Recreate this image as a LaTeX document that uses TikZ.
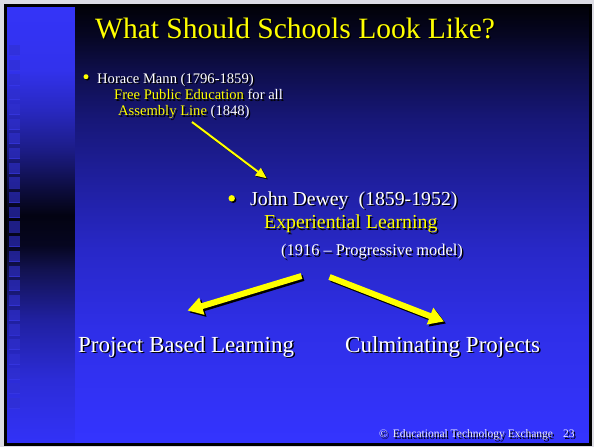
\documentclass[tikz,border=0pt]{standalone}
\usepackage{fontspec}
\setmainfont{Liberation Serif}
\usetikzlibrary{arrows.meta}

\definecolor{slideyellow}{HTML}{FFFF00}
\definecolor{outerbg}{HTML}{DCDCE4}
\definecolor{sqfill}{HTML}{3030D0}
\definecolor{sqedge}{HTML}{3C3CF0}
% main background, bottom to top
\definecolor{bgA}{HTML}{3434FF}
\definecolor{bgB}{HTML}{2F2FE8}
\definecolor{bgC}{HTML}{2828C8}
\definecolor{bgD}{HTML}{1F1F9E}
\definecolor{bgE}{HTML}{171778}
\definecolor{bgF}{HTML}{0E0E4A}
\definecolor{bgG}{HTML}{060622}
\definecolor{bgH}{HTML}{010108}
% left strip, bottom to top
\definecolor{stA}{HTML}{3232F8}
\definecolor{stB}{HTML}{2C2CD8}
\definecolor{stC}{HTML}{2020A0}
\definecolor{stD}{HTML}{121250}
\definecolor{stE}{HTML}{060620}
\definecolor{stF}{HTML}{030312}
\definecolor{stG}{HTML}{0C0C3C}
\definecolor{stH}{HTML}{1C1C86}
\definecolor{stI}{HTML}{2828C0}
\definecolor{stJ}{HTML}{3232EC}
\definecolor{stK}{HTML}{3434F8}

\pgfdeclareverticalshading{slidebg}{100bp}{color(0bp)=(bgA); color(25bp)=(bgA);
  color(38bp)=(bgB); color(47.1bp)=(bgC); color(55.1bp)=(bgD); color(62bp)=(bgE);
  color(67.7bp)=(bgF); color(71.7bp)=(bgG); color(75bp)=(bgH); color(100bp)=(bgH)}
\pgfdeclareverticalshading{stripbg}{100bp}{color(0bp)=(stA); color(25bp)=(stA);
  color(32.3bp)=(stB); color(39.2bp)=(stC); color(44.9bp)=(stD); color(47.7bp)=(stE);
  color(51.1bp)=(stF); color(54bp)=(stG); color(58.6bp)=(stH); color(63.1bp)=(stI);
  color(67.7bp)=(stJ); color(75bp)=(stK); color(100bp)=(stK)}

\newcommand{\hl}[1]{\textcolor{slideyellow}{#1}}
% shadowed text: [style] {name} {position} {text}
\newcommand{\slidetext}[4][]{%
  \node[slidetxt,#1,text=black,xshift=1.5pt,yshift=-1.5pt] at (#3) {\let\hl\relax #4};
  \node[slidetxt,#1] (#2) at (#3) {#4};}

\tikzset{
  slidetxt/.style={anchor=base west, inner sep=0pt, text=white},
  titletxt/.style={font=\fontsize{29.5}{32}\selectfont, text=slideyellow},
  manntxt/.style={font=\fontsize{14.6}{16}\selectfont},
  deweytxt/.style={font=\fontsize{19.8}{22}\selectfont},
  yeartxt/.style={font=\fontsize{16.4}{18}\selectfont},
  branchtxt/.style={font=\fontsize{23}{26}\selectfont},
  foottxt/.style={font=\fontsize{11.5}{13}\selectfont, text=white!92!blue},
  thinarrow/.style={draw=slideyellow, line width=2pt, -{Triangle[length=11pt,width=9pt]}},
  bigarrow/.style={draw=slideyellow, line width=6pt, -{Triangle[length=15pt,width=17pt]}}
}

\begin{document}
\begin{tikzpicture}[x=1pt,y=-1pt]
\useasboundingbox (0,0) rectangle (594,447);

% slide background
\fill[outerbg] (0,0) rectangle (594,447);
\shade[shading=stripbg] (6,6) rectangle (75,444);
\shade[shading=slidebg] (75,6) rectangle (590,444);
\foreach \i in {0,...,24} {
  \fill[sqfill, fill opacity=0.6] (9,45+14.7*\i) rectangle +(11,11);
  \draw[sqedge, opacity=0.5, line width=0.7pt] (9,55.6+14.7*\i) -- +(11,0);
}
\draw[black, line width=3pt] (5.5,5.5) rectangle (590.5,444.5);

% title
\slidetext[titletxt]{title}{95,38}{What Should Schools Look Like?}

% Horace Mann
\fill[black] (87.3,78) circle (2.5);
\fill[slideyellow] (86,76.7) circle (2.5);
\slidetext[manntxt]{mann}{97,83}{Horace Mann (1796-1859)}
\slidetext[manntxt]{free}{114,99.5}{\hl{Free Public Education} for all}
\slidetext[manntxt]{assembly}{118,115.5}{\hl{Assembly Line} (1848)}

% John Dewey
\fill[black] (233.2,199.8) circle (3.2);
\fill[slideyellow] (231.7,198.3) circle (3.2);
\slidetext[deweytxt]{dewey}{250,205}{John Dewey\ \ (1859-1952)}
\slidetext[deweytxt,text=slideyellow]{experiential}{264,228.5}{Experiential Learning}
\slidetext[yeartxt]{progressive}{281,255.5}{(1916 – Progressive model)}

% branches
\slidetext[branchtxt]{pbl}{78,352}{Project Based Learning}
\slidetext[branchtxt]{culminating}{345,352}{Culminating Projects}

% footer
\slidetext[foottxt]{copyright}{379,437.5}{©\hspace{5pt}Educational Technology Exchange}
\slidetext[foottxt]{page}{563,437.5}{23}

% arrows
\coordinate (mannEnd) at (192,122);
\coordinate (deweyTip) at (266.7,178.3);
\coordinate (deweyLeft) at (301.5,276);
\coordinate (pblTip) at (187.5,310.5);
\coordinate (deweyRight) at (329.5,277);
\coordinate (cpTip) at (444,321.5);

\draw[thinarrow,draw=black] ([xshift=1.2pt,yshift=-1.2pt]mannEnd) -- ([xshift=1.2pt,yshift=-1.2pt]deweyTip);
\draw[thinarrow] (mannEnd) -- (deweyTip);
\draw[bigarrow,draw=black] ([xshift=2pt,yshift=-2pt]deweyLeft) -- ([xshift=2pt,yshift=-2pt]pblTip);
\draw[bigarrow] (deweyLeft) -- (pblTip);
\draw[bigarrow,draw=black] ([xshift=2pt,yshift=-2pt]deweyRight) -- ([xshift=2pt,yshift=-2pt]cpTip);
\draw[bigarrow] (deweyRight) -- (cpTip);

\end{tikzpicture}
\end{document}
